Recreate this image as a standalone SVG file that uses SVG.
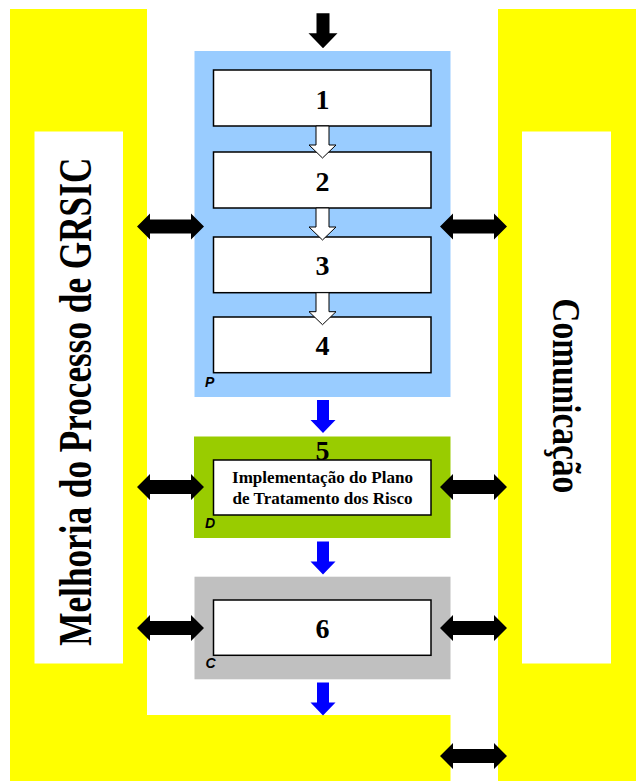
<svg xmlns="http://www.w3.org/2000/svg" xmlns:xlink="http://www.w3.org/1999/xlink" width="636" height="781" viewBox="0 0 636 781">
<style>
.yel{fill:#FFFF00}
.pan{fill:#FFFFFF}
.box{fill:#FFFFFF;stroke:#000000;stroke-width:1.5}
.num{font-family:"Liberation Serif","Times New Roman",serif;font-weight:bold;font-size:28px;fill:#000;text-anchor:middle}
.lbl{font-family:"Liberation Sans",Arial,sans-serif;font-weight:bold;font-style:italic;font-size:14px;fill:#000}
.big{font-family:"Liberation Serif","Times New Roman",serif;font-weight:bold;fill:#000;text-anchor:middle}
.txt{font-family:"Liberation Serif","Times New Roman",serif;font-weight:bold;font-size:17px;fill:#000;text-anchor:middle}
.dbl{fill:#000000}
.hol{fill:#FFFFFF;stroke:#000000;stroke-width:1}
.blu{fill:#0000FF}
</style>
<defs>
<path id="darrow" d="M -33.5 0 L -20.5 -13 L -20.5 -7 L 20.5 -7 L 20.5 -13 L 33.5 0 L 20.5 13 L 20.5 7 L -20.5 7 L -20.5 13 Z"/>
<path id="harrow" d="M -6.5 0 H 6.5 V 19 H 13.5 L 0 32 L -13.5 19 H -6.5 Z"/>
<path id="barrow" d="M -6 0 H 6 V 20 H 12.5 L 0 33 L -12.5 20 H -6 Z"/>
</defs>
<rect x="0" y="0" width="636" height="781" fill="#FFFFFF"/>
<g id="melhoria">
<rect class="yel" x="10" y="9" width="137" height="772"/>
<rect class="yel" x="10" y="715" width="440.5" height="66"/>
<rect class="pan" x="34.5" y="131.5" width="88.5" height="532"/>
<text class="big" font-size="46" transform="translate(91,401.7) rotate(-90)" textLength="488" lengthAdjust="spacingAndGlyphs">Melhoria do Processo de GRSIC</text>
</g>
<g id="comunicacao">
<rect class="yel" x="498" y="9" width="138" height="772"/>
<rect class="pan" x="522" y="131.5" width="89" height="532"/>
<text class="big" font-size="40" transform="translate(553,395.8) rotate(90)" textLength="195" lengthAdjust="spacingAndGlyphs">Comunicação</text>
</g>
<g id="plan">
<rect x="194.5" y="51" width="256" height="346" fill="#99CCFF"/>
<text class="lbl" x="205" y="387">P</text>
</g>
<g id="step1"><rect class="box" x="213.5" y="70" width="217.5" height="56"/><text class="num" x="322.5" y="108.5">1</text></g>
<g id="step2"><rect class="box" x="213.5" y="152" width="217.5" height="56"/><text class="num" x="322.5" y="190.5">2</text></g>
<g id="step3"><rect class="box" x="213.5" y="237" width="217.5" height="55.7"/><text class="num" x="322.5" y="275">3</text></g>
<g id="step4"><rect class="box" x="213.5" y="317" width="217.5" height="55.7"/><text class="num" x="322.5" y="355">4</text></g>
<g id="do">
<rect x="194" y="436.5" width="256.5" height="101.5" fill="#99CC00"/>
<text class="num" x="322.5" y="460">5</text>
<text class="lbl" x="205" y="528">D</text>
</g>
<g id="step5">
<rect class="box" x="213.5" y="460" width="217.5" height="55"/>
<text class="txt" x="322.5" y="483.3" textLength="181" lengthAdjust="spacingAndGlyphs">Implementação do Plano</text>
<text class="txt" x="322.5" y="504" textLength="180" lengthAdjust="spacingAndGlyphs">de Tratamento dos Risco</text>
</g>
<g id="check">
<rect x="194.5" y="576.7" width="256" height="102.6" fill="#C0C0C0"/>
<text class="lbl" x="205.5" y="668">C</text>
</g>
<g id="step6"><rect class="box" x="213.5" y="600" width="217.5" height="55.3"/><text class="num" x="322.5" y="638">6</text></g>
<g id="connectors">
<path class="dbl" d="M -6.5 0 H 6.5 V 20 H 14.5 L 0 35 L -14.5 20 H -6.5 Z" transform="translate(323,13.3)"/>
<use xlink:href="#harrow" class="hol" transform="translate(322.5,126)"/>
<use xlink:href="#harrow" class="hol" transform="translate(322.5,208)"/>
<use xlink:href="#harrow" class="hol" transform="translate(322.5,292.7)"/>
<use xlink:href="#barrow" class="blu" transform="translate(323,400)"/>
<use xlink:href="#barrow" class="blu" transform="translate(323,541.5)"/>
<use xlink:href="#barrow" class="blu" transform="translate(323,682.5)"/>
<use xlink:href="#darrow" class="dbl" transform="translate(170.5,226.5)"/>
<use xlink:href="#darrow" class="dbl" transform="translate(473.5,226.5)"/>
<use xlink:href="#darrow" class="dbl" transform="translate(170.5,487)"/>
<use xlink:href="#darrow" class="dbl" transform="translate(473.5,487)"/>
<use xlink:href="#darrow" class="dbl" transform="translate(170.5,628)"/>
<use xlink:href="#darrow" class="dbl" transform="translate(473.5,628)"/>
<use xlink:href="#darrow" class="dbl" transform="translate(473.5,756)"/>
</g>
</svg>
